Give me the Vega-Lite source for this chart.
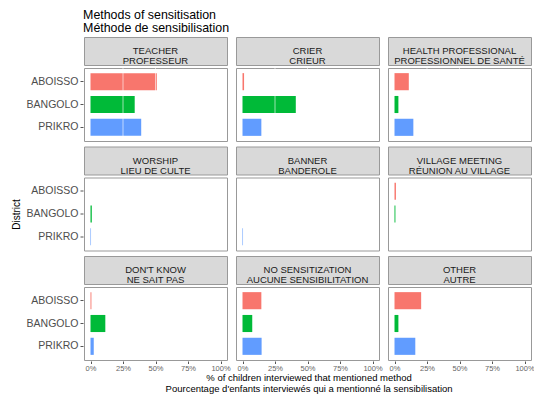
{
  "$schema": "https://vega.github.io/schema/vega-lite/v6.json",
  "background": "white",
  "padding": {"left": 11, "top": 9, "right": 4, "bottom": 2},
  "title": {
    "text": ["Methods of sensitisation", "Méthode de sensibilisation"],
    "anchor": "start",
    "fontSize": 12.4,
    "fontWeight": "normal",
    "color": "#000000",
    "lineHeight": 12.8,
    "offset": 2,
    "dx": 72
  },
  "datasets": {
    "methods": [
      {"method": "TEACHER\nPROFESSEUR"},
      {"method": "CRIER\nCRIEUR"},
      {"method": "HEALTH PROFESSIONAL\nPROFESSIONNEL DE SANTÉ"},
      {"method": "WORSHIP\nLIEU DE CULTE"},
      {"method": "BANNER\nBANDEROLE"},
      {"method": "VILLAGE MEETING\nRÉUNION AU VILLAGE"},
      {"method": "DON'T KNOW\nNE SAIT PAS"},
      {"method": "NO SENSITIZATION\nAUCUNE SENSIBILITATION"},
      {"method": "OTHER\nAUTRE"}
    ],
    "mentions": [
      {"method": "TEACHER\nPROFESSEUR", "district": "ABOISSO", "pct": 51},
      {"method": "TEACHER\nPROFESSEUR", "district": "BANGOLO", "pct": 34},
      {"method": "TEACHER\nPROFESSEUR", "district": "PRIKRO", "pct": 39},
      {"method": "CRIER\nCRIEUR", "district": "ABOISSO", "pct": 1.2},
      {"method": "CRIER\nCRIEUR", "district": "BANGOLO", "pct": 41},
      {"method": "CRIER\nCRIEUR", "district": "PRIKRO", "pct": 14.5},
      {"method": "HEALTH PROFESSIONAL\nPROFESSIONNEL DE SANTÉ", "district": "ABOISSO", "pct": 11},
      {"method": "HEALTH PROFESSIONAL\nPROFESSIONNEL DE SANTÉ", "district": "BANGOLO", "pct": 3},
      {"method": "HEALTH PROFESSIONAL\nPROFESSIONNEL DE SANTÉ", "district": "PRIKRO", "pct": 14.5},
      {"method": "WORSHIP\nLIEU DE CULTE", "district": "ABOISSO", "pct": 0},
      {"method": "WORSHIP\nLIEU DE CULTE", "district": "BANGOLO", "pct": 1},
      {"method": "WORSHIP\nLIEU DE CULTE", "district": "PRIKRO", "pct": 0.4},
      {"method": "BANNER\nBANDEROLE", "district": "ABOISSO", "pct": 0},
      {"method": "BANNER\nBANDEROLE", "district": "BANGOLO", "pct": 0},
      {"method": "BANNER\nBANDEROLE", "district": "PRIKRO", "pct": 0.4},
      {"method": "VILLAGE MEETING\nRÉUNION AU VILLAGE", "district": "ABOISSO", "pct": 1.1},
      {"method": "VILLAGE MEETING\nRÉUNION AU VILLAGE", "district": "BANGOLO", "pct": 0.7},
      {"method": "VILLAGE MEETING\nRÉUNION AU VILLAGE", "district": "PRIKRO", "pct": 0},
      {"method": "DON'T KNOW\nNE SAIT PAS", "district": "ABOISSO", "pct": 0.7},
      {"method": "DON'T KNOW\nNE SAIT PAS", "district": "BANGOLO", "pct": 11.4},
      {"method": "DON'T KNOW\nNE SAIT PAS", "district": "PRIKRO", "pct": 2.5},
      {"method": "NO SENSITIZATION\nAUCUNE SENSIBILITATION", "district": "ABOISSO", "pct": 14.5},
      {"method": "NO SENSITIZATION\nAUCUNE SENSIBILITATION", "district": "BANGOLO", "pct": 7.5},
      {"method": "NO SENSITIZATION\nAUCUNE SENSIBILITATION", "district": "PRIKRO", "pct": 14.7},
      {"method": "OTHER\nAUTRE", "district": "ABOISSO", "pct": 20.5},
      {"method": "OTHER\nAUTRE", "district": "BANGOLO", "pct": 3},
      {"method": "OTHER\nAUTRE", "district": "PRIKRO", "pct": 16}
    ]
  },
  "vconcat": [
    {
      "spacing": 0,
      "vconcat": [
        {
          "data": {"name": "methods"},
          "transform": [{"filter": {"field": "method", "oneOf": ["TEACHER\nPROFESSEUR", "CRIER\nCRIEUR", "HEALTH PROFESSIONAL\nPROFESSIONNEL DE SANTÉ"]}}],
          "facet": {"column": {"field": "method", "sort": ["TEACHER\nPROFESSEUR", "CRIER\nCRIEUR", "HEALTH PROFESSIONAL\nPROFESSIONNEL DE SANTÉ"], "header": {"labels": false, "title": null}}},
          "spec": {
            "width": 143, "height": 28,
            "view": {"fill": "#d9d9d9", "stroke": "#999999"},
            "mark": {"type": "text", "lineBreak": "\n", "lineHeight": 10.4, "fontSize": 9.5, "color": "#1a1a1a", "baseline": "middle"},
            "encoding": {"text": {"field": "method"}}
          }
        },
        {
          "data": {"name": "mentions"},
          "transform": [{"filter": {"field": "method", "oneOf": ["TEACHER\nPROFESSEUR", "CRIER\nCRIEUR", "HEALTH PROFESSIONAL\nPROFESSIONNEL DE SANTÉ"]}}],
          "facet": {"column": {"field": "method", "sort": ["TEACHER\nPROFESSEUR", "CRIER\nCRIEUR", "HEALTH PROFESSIONAL\nPROFESSIONNEL DE SANTÉ"], "header": {"labels": false, "title": null}}},
          "spec": {
            "width": 143, "height": 73,
            "encoding": {
              "x": {"field": "pct", "type": "quantitative", "scale": {"domain": [-5, 105], "nice": false}, "axis": null}
            },
            "layer": [
              {
                "mark": {"type": "bar"},
                "encoding": {
                  "y": {"field": "district", "type": "nominal", "sort": ["ABOISSO", "BANGOLO", "PRIKRO"], "scale": {"paddingInner": 0.25, "paddingOuter": 0.225}, "axis": {"title": null}},
                  "x2": {"datum": 0},
                  "color": {"field": "district", "type": "nominal", "scale": {"domain": ["ABOISSO", "BANGOLO", "PRIKRO"], "range": ["#F8766D", "#00BA38", "#619CFF"]}, "legend": null}
                }
              },
              {
                "transform": [{"filter": "datum.district === 'ABOISSO'"}],
                "mark": {"type": "rule", "color": "#ffffff", "opacity": 0.6, "strokeWidth": 1},
                "encoding": {"x": {"datum": 25}}
              },
              {
                "transform": [{"filter": "datum.district === 'ABOISSO'"}],
                "mark": {"type": "rule", "color": "#ffffff", "opacity": 0.6, "strokeWidth": 1},
                "encoding": {"x": {"datum": 50}}
              }
            ]
          }
        }
      ]
    },
    {
      "spacing": 0,
      "vconcat": [
        {
          "data": {"name": "methods"},
          "transform": [{"filter": {"field": "method", "oneOf": ["WORSHIP\nLIEU DE CULTE", "BANNER\nBANDEROLE", "VILLAGE MEETING\nRÉUNION AU VILLAGE"]}}],
          "facet": {"column": {"field": "method", "sort": ["WORSHIP\nLIEU DE CULTE", "BANNER\nBANDEROLE", "VILLAGE MEETING\nRÉUNION AU VILLAGE"], "header": {"labels": false, "title": null}}},
          "spec": {
            "width": 143, "height": 28,
            "view": {"fill": "#d9d9d9", "stroke": "#999999"},
            "mark": {"type": "text", "lineBreak": "\n", "lineHeight": 10.4, "fontSize": 9.5, "color": "#1a1a1a", "baseline": "middle"},
            "encoding": {"text": {"field": "method"}}
          }
        },
        {
          "data": {"name": "mentions"},
          "transform": [{"filter": {"field": "method", "oneOf": ["WORSHIP\nLIEU DE CULTE", "BANNER\nBANDEROLE", "VILLAGE MEETING\nRÉUNION AU VILLAGE"]}}],
          "facet": {"column": {"field": "method", "sort": ["WORSHIP\nLIEU DE CULTE", "BANNER\nBANDEROLE", "VILLAGE MEETING\nRÉUNION AU VILLAGE"], "header": {"labels": false, "title": null}}},
          "spec": {
            "width": 143, "height": 73,
            "mark": {"type": "bar"},
            "encoding": {
              "y": {"field": "district", "type": "nominal", "sort": ["ABOISSO", "BANGOLO", "PRIKRO"], "scale": {"paddingInner": 0.25, "paddingOuter": 0.225}, "axis": {"title": "District"}},
              "x": {"field": "pct", "type": "quantitative", "scale": {"domain": [-5, 105], "nice": false}, "axis": null},
              "x2": {"datum": 0},
              "color": {"field": "district", "type": "nominal", "scale": {"domain": ["ABOISSO", "BANGOLO", "PRIKRO"], "range": ["#F8766D", "#00BA38", "#619CFF"]}, "legend": null}
            }
          }
        }
      ]
    },
    {
      "spacing": 0,
      "title": {
        "text": ["% of children interviewed that mentioned method", "Pourcentage d'enfants interviewés qui a mentionné la sensibilisation"],
        "orient": "bottom",
        "anchor": "middle",
        "fontSize": 9.5,
        "fontWeight": "normal",
        "color": "#000000",
        "lineHeight": 11,
        "offset": 1,
        "dx": 29
      },
      "vconcat": [
        {
          "data": {"name": "methods"},
          "transform": [{"filter": {"field": "method", "oneOf": ["DON'T KNOW\nNE SAIT PAS", "NO SENSITIZATION\nAUCUNE SENSIBILITATION", "OTHER\nAUTRE"]}}],
          "facet": {"column": {"field": "method", "sort": ["DON'T KNOW\nNE SAIT PAS", "NO SENSITIZATION\nAUCUNE SENSIBILITATION", "OTHER\nAUTRE"], "header": {"labels": false, "title": null}}},
          "spec": {
            "width": 143, "height": 28,
            "view": {"fill": "#d9d9d9", "stroke": "#999999"},
            "mark": {"type": "text", "lineBreak": "\n", "lineHeight": 10.4, "fontSize": 9.5, "color": "#1a1a1a", "baseline": "middle"},
            "encoding": {"text": {"field": "method"}}
          }
        },
        {
          "data": {"name": "mentions"},
          "transform": [{"filter": {"field": "method", "oneOf": ["DON'T KNOW\nNE SAIT PAS", "NO SENSITIZATION\nAUCUNE SENSIBILITATION", "OTHER\nAUTRE"]}}],
          "facet": {"column": {"field": "method", "sort": ["DON'T KNOW\nNE SAIT PAS", "NO SENSITIZATION\nAUCUNE SENSIBILITATION", "OTHER\nAUTRE"], "header": {"labels": false, "title": null}}},
          "spec": {
            "width": 143, "height": 73,
            "mark": {"type": "bar"},
            "encoding": {
              "y": {"field": "district", "type": "nominal", "sort": ["ABOISSO", "BANGOLO", "PRIKRO"], "scale": {"paddingInner": 0.25, "paddingOuter": 0.225}, "axis": {"title": null}},
              "x": {"field": "pct", "type": "quantitative", "scale": {"domain": [-5, 105], "nice": false}, "axis": {"values": [0, 25, 50, 75, 100], "labelExpr": "datum.value + '%'", "title": null}},
              "x2": {"datum": 0},
              "color": {"field": "district", "type": "nominal", "scale": {"domain": ["ABOISSO", "BANGOLO", "PRIKRO"], "range": ["#F8766D", "#00BA38", "#619CFF"]}, "legend": null}
            }
          }
        }
      ]
    }
  ],
  "config": {
    "font": "Liberation Sans",
    "view": {"stroke": "#999999", "strokeWidth": 1},
    "concat": {"spacing": 3.5},
    "facet": {"spacing": 7},
    "axisX": {
      "grid": false,
      "domain": false,
      "tickColor": "#555555", "tickSize": 2.5, "labelPadding": 1,
      "labelFontSize": 7.5, "labelColor": "#666666", "labelAngle": 0
    },
    "axisY": {
      "grid": false, "domain": false,
      "tickColor": "#555555", "tickSize": 3, "labelPadding": 2,
      "labelFontSize": 10.5, "labelColor": "#4d4d4d",
      "titleFontSize": 10, "titleFontWeight": "normal", "titleColor": "#000000", "titlePadding": 5
    }
  }
}
